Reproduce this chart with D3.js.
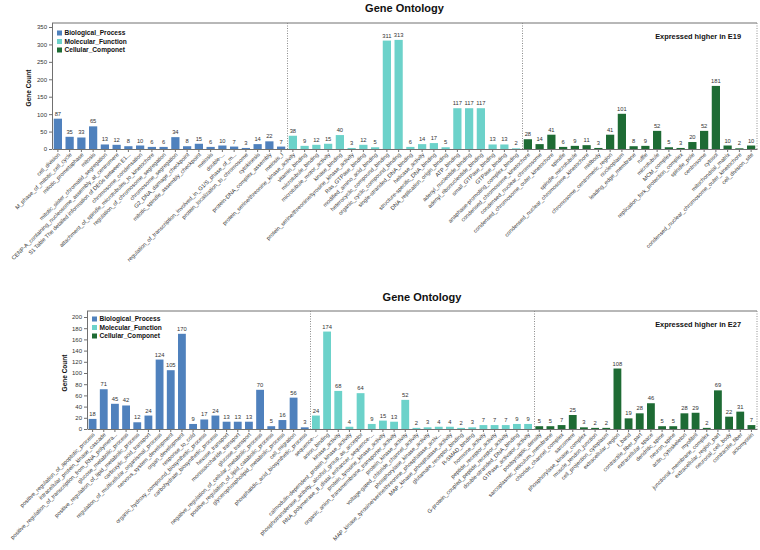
<!DOCTYPE html>
<html><head><meta charset="utf-8">
<script src="https://cdn.jsdelivr.net/npm/d3@7"></script>
<style>
html,body{margin:0;padding:0;background:#fff;}
svg{display:block;font-family:"Liberation Sans",Arial,sans-serif;}
</style></head>
<body>
<svg id="chart" width="760" height="550"></svg>
<script>
// ---------- DATA ----------
const groupNames = ["Biological_Process", "Molecular_Function", "Cellular_Componet"];
const groupColors = ["#4F81BD", "#6CD2CA", "#1E6B34"];

// Panel 1 : Expressed higher in E19
const e19_bpLabels = ["cell_division","M_phase_of_mitotic_cell_cycle","mitotic_prometaphase","mitosis",
  "mitotic_sister_chromatid_segregation","CENP-A_containing_nucleosome_assembly_at_centromere",
  "S1 Table The detailed information of DEGs between E1...","chromosome_condensation",
  "attachment_of_spindle_microtubules_to_kinetochore","regulation_of_chromosome_segregation",
  "chromosome_segregation","G2_DNA_damage_checkpoint","mitotic_spindle_assembly_checkpoint","meiosis",
  "double-...","regulation_of_transcription_involved_in_G1/S_phase_of_m...","protein_localization_to_chromosome",
  "cytokinesis","protein-DNA_complex_assembly","meiosis_I"];
const e19_bpValues = [87,35,33,65,13,12,8,10,6,6,34,8,15,6,10,7,3,14,22,7];
const e19_mfLabels = ["protein_serine/threonine_kinase_activity","vitamin_binding","microtubule_binding",
  "microtubule_motor_activity","kinase_binding","protein_serine/threonine/tyrosine_kinase_activity",
  "Ras_GTPase_binding","modified_amino_acid_binding","heterocyclic_compound_binding",
  "organic_cyclic_compound_binding","single-stranded_DNA_binding","helicase_activity",
  "structure-specific_DNA_binding","DNA_replication_origin_binding","ATP_binding",
  "adenyl_nucleotide_binding","adenyl_ribonucleotide_binding","small_GTPase_binding","GTPase_binding",
  "anaphase-promoting_complex_binding"];
const e19_mfValues = [38,9,12,15,40,3,12,5,311,313,6,14,17,5,117,117,117,13,13,2];
const e19_ccLabels = ["condensed_chromosome_kinetochore","condensed_nuclear_chromosome",
  "condensed_chromosome_outer_kinetochore","spindle","spindle_microtubule",
  "condensed_nuclear_chromosome_kinetochore","midbody","chromosome_centromeric_region","nucleoplasm",
  "leading_edge_membrane","ruffle","microtubule","MCM_complex","replication_fork_protection_complex",
  "spindle_pole","centrosome","cytosol","mitochondrial_matrix",
  "condensed_nuclear_chromosome_outer_kinetochore","cell_division_site"];
const e19_ccValues = [28,14,41,6,9,11,3,41,101,8,9,52,5,3,20,52,181,10,2,10];
const e19_yTicks = [0,50,100,150,200,250,300,350];

// Panel 2 : Expressed higher in E27
const e27_bpLabels = ["positive_regulation_of_apoptotic_process","intracellular_protein_kinase_cascade",
  "positive_regulation_of_transcription_from_RNA_polymera...","glucose_metabolic_process",
  "positive_regulation_of_lipid_metabolic_process","carboxylic_acid_transport",
  "regulation_of_multicellular_organismal_process","nervous_system_development","organ_development",
  "response_to_cold","organic_hydroxy_compound_biosynthetic_process","carbohydrate_biosynthetic_process",
  "hexose_transport","monosaccharide_transport","glucose_transport",
  "negative_regulation_of_cellular_metabolic_process","positive_regulation_of_lipid_catabolic_process",
  "glycerophospholipid_metabolic_process","cell_migration","phosphatidic_acid_biosynthetic_process"];
const e27_bpValues = [18,71,45,42,12,24,124,105,170,9,17,24,13,13,13,70,5,16,56,3];
const e27_mfLabels = ["sequence-...","anion_binding","kinase_activity",
  "calmodulin-dependent_protein_kinase_activity","phosphotransferase_activity,_alcohol_group_as_acceptor",
  "RNA_polymerase_II_distal_enhancer_sequence-...","protein_tyrosine_kinase_activity",
  "organic_anion_transmembrane_transporter_activity","protein_kinase_activity",
  "voltage-gated_chloride_channel_activity","phosphorylase_kinase_activity",
  "MAP_kinase_tyrosine/serine/threonine_phosphatase_activ...","MAP_kinase_phosphatase_activity",
  "glutamate_receptor_binding","R-SMAD_binding","hormone_activity","peptide_receptor_activity",
  "G-protein_coupled_peptide_receptor_activity","double-stranded_DNA_binding","GTPase_activator_activity"];
const e27_mfValues = [24,174,68,4,64,9,15,13,52,2,3,4,4,2,3,7,7,7,9,9];
const e27_ccLabels = ["postsynaptic_density","sarcoplasmic_reticulum_membrane","chloride_channel_complex",
  "sarcomere","phosphorylase_kinase_complex","muscle_tendon_junction","cell_projection_cytoplasm",
  "extracellular_region","I_band","contractile_fiber_part","extracellular_space","dendritic_spine",
  "neuron_spine","actin_cytoskeleton","myofibril","junctional_membrane_complex",
  "extracellular_region_part","neuronal_cell_body","contractile_fiber","actomyosin"];
const e27_ccValues = [5,5,7,25,3,2,2,108,19,28,46,5,5,28,29,2,69,22,31,7];
const e27_yTicks = [0,20,40,60,80,100,120,140,160,180,200];

const chartTitle = "Gene Ontology";
const yAxisTitle = "Gene Count";

// ---------- LAYOUT ----------
const panels = [
  { labels:[e19_bpLabels,e19_mfLabels,e19_ccLabels], values:[e19_bpValues,e19_mfValues,e19_ccValues],
    ticks:e19_yTicks, note:"Expressed higher in E19",
    left:52, right:757, frameTop:23, zero:149, tickTop:27, titleY:12, axisTitleX:31, legendX:57, legendY:33, noteY:39 },
  { labels:[e27_bpLabels,e27_mfLabels,e27_ccLabels], values:[e27_bpValues,e27_mfValues,e27_ccValues],
    ticks:e27_yTicks, note:"Expressed higher in E27",
    left:87, right:757, frameTop:311, zero:429, tickTop:317, titleY:301, axisTitleX:67, legendX:92, legendY:319, noteY:327 }
];

const svg = d3.select("#chart");

panels.forEach(p => {
  const items = [];
  p.labels.forEach((labs, g) => labs.forEach((l, i) => items.push({label:l, value:p.values[g][i], group:g})));
  const n = items.length;
  const g = svg.append("g");

  const x = d3.scaleBand().domain(d3.range(n)).range([p.left, p.right]).paddingInner(0.3).paddingOuter(0.15);
  const yMax = d3.max(p.ticks);
  const y = d3.scaleLinear().domain([0, yMax]).range([p.zero, p.tickTop]);

  // title
  g.append("text").attr("x", (p.left + p.right) / 2).attr("y", p.titleY)
    .attr("text-anchor", "middle").attr("font-size", 11).attr("font-weight", "bold").attr("fill", "#111")
    .text(chartTitle);

  // frame: top solid, right dotted
  g.append("line").attr("x1", p.left).attr("x2", p.right).attr("y1", p.frameTop).attr("y2", p.frameTop)
    .attr("stroke", "#707070").attr("stroke-width", 1);
  g.append("line").attr("x1", p.right).attr("x2", p.right).attr("y1", p.frameTop).attr("y2", p.zero)
    .attr("stroke", "#909090").attr("stroke-width", 1).attr("stroke-dasharray", "1,1.5");

  // group separators
  [20, 40].forEach(k => {
    const sx = Math.round(x(k) - x.step() * x.paddingInner() / 2) + 0.5;
    g.append("line").attr("x1", sx).attr("x2", sx).attr("y1", p.frameTop).attr("y2", p.zero)
      .attr("stroke", "#8a8a8a").attr("stroke-width", 1).attr("stroke-dasharray", "1,1.5");
  });

  // bars
  g.selectAll("rect.bar").data(items).enter().append("rect").attr("class", "bar")
    .attr("x", (d, i) => x(i)).attr("width", x.bandwidth())
    .attr("y", d => y(d.value)).attr("height", d => p.zero - y(d.value))
    .attr("fill", d => groupColors[d.group]);

  // value labels
  g.selectAll("text.val").data(items).enter().append("text").attr("class", "val")
    .attr("x", (d, i) => x(i) + x.bandwidth() / 2).attr("y", d => y(d.value) - 3)
    .attr("text-anchor", "middle").attr("font-size", 5.8).attr("fill", "#333")
    .text(d => d.value);

  // y axis
  const ya = g.append("g").attr("transform", `translate(${p.left},0)`)
    .call(d3.axisLeft(y).tickValues(p.ticks).tickSize(3).tickSizeOuter(0));
  ya.select(".domain").attr("d", `M0.5,${p.frameTop}V${p.zero}`).attr("stroke", "#707070");
  ya.selectAll(".tick line").attr("stroke", "#707070");
  ya.selectAll(".tick text").attr("font-size", 6).attr("fill", "#333").attr("x", -5)
    .attr("font-family", "Liberation Sans, Arial, sans-serif");

  // x axis
  const xa = g.append("g").attr("transform", `translate(0,${p.zero})`)
    .call(d3.axisBottom(x).tickSize(3).tickSizeOuter(0).tickFormat(i => items[i].label));
  xa.select(".domain").attr("stroke", "#707070");
  xa.selectAll(".tick line").attr("stroke", "#707070");
  xa.selectAll(".tick text").attr("x", 0).attr("y", 0).attr("dy", 0)
    .attr("transform", "translate(2.5,6) rotate(-45)").style("text-anchor", "end")
    .attr("font-size", 5.6).attr("fill", "#333").attr("font-family", "Liberation Sans, Arial, sans-serif");

  // y axis title
  g.append("text").attr("transform", `translate(${p.axisTitleX},${(p.tickTop + p.zero) / 2}) rotate(-90)`)
    .attr("text-anchor", "middle").attr("font-size", 6.5).attr("font-weight", "bold").attr("fill", "#111")
    .text(yAxisTitle);

  // legend
  groupNames.forEach((nm, k) => {
    const ly = p.legendY + k * 8.5;
    g.append("rect").attr("x", p.legendX).attr("y", ly - 2.5).attr("width", 5).attr("height", 5)
      .attr("fill", groupColors[k]);
    g.append("text").attr("x", p.legendX + 7.5).attr("y", ly + 2.4)
      .attr("font-size", 6.6).attr("font-weight", "bold").attr("fill", "#111").text(nm);
  });

  // note
  g.append("text").attr("x", p.right - 16).attr("y", p.noteY).attr("text-anchor", "end")
    .attr("font-size", 7.4).attr("font-weight", "bold").attr("fill", "#111").text(p.note);
});
</script>
</body></html>
